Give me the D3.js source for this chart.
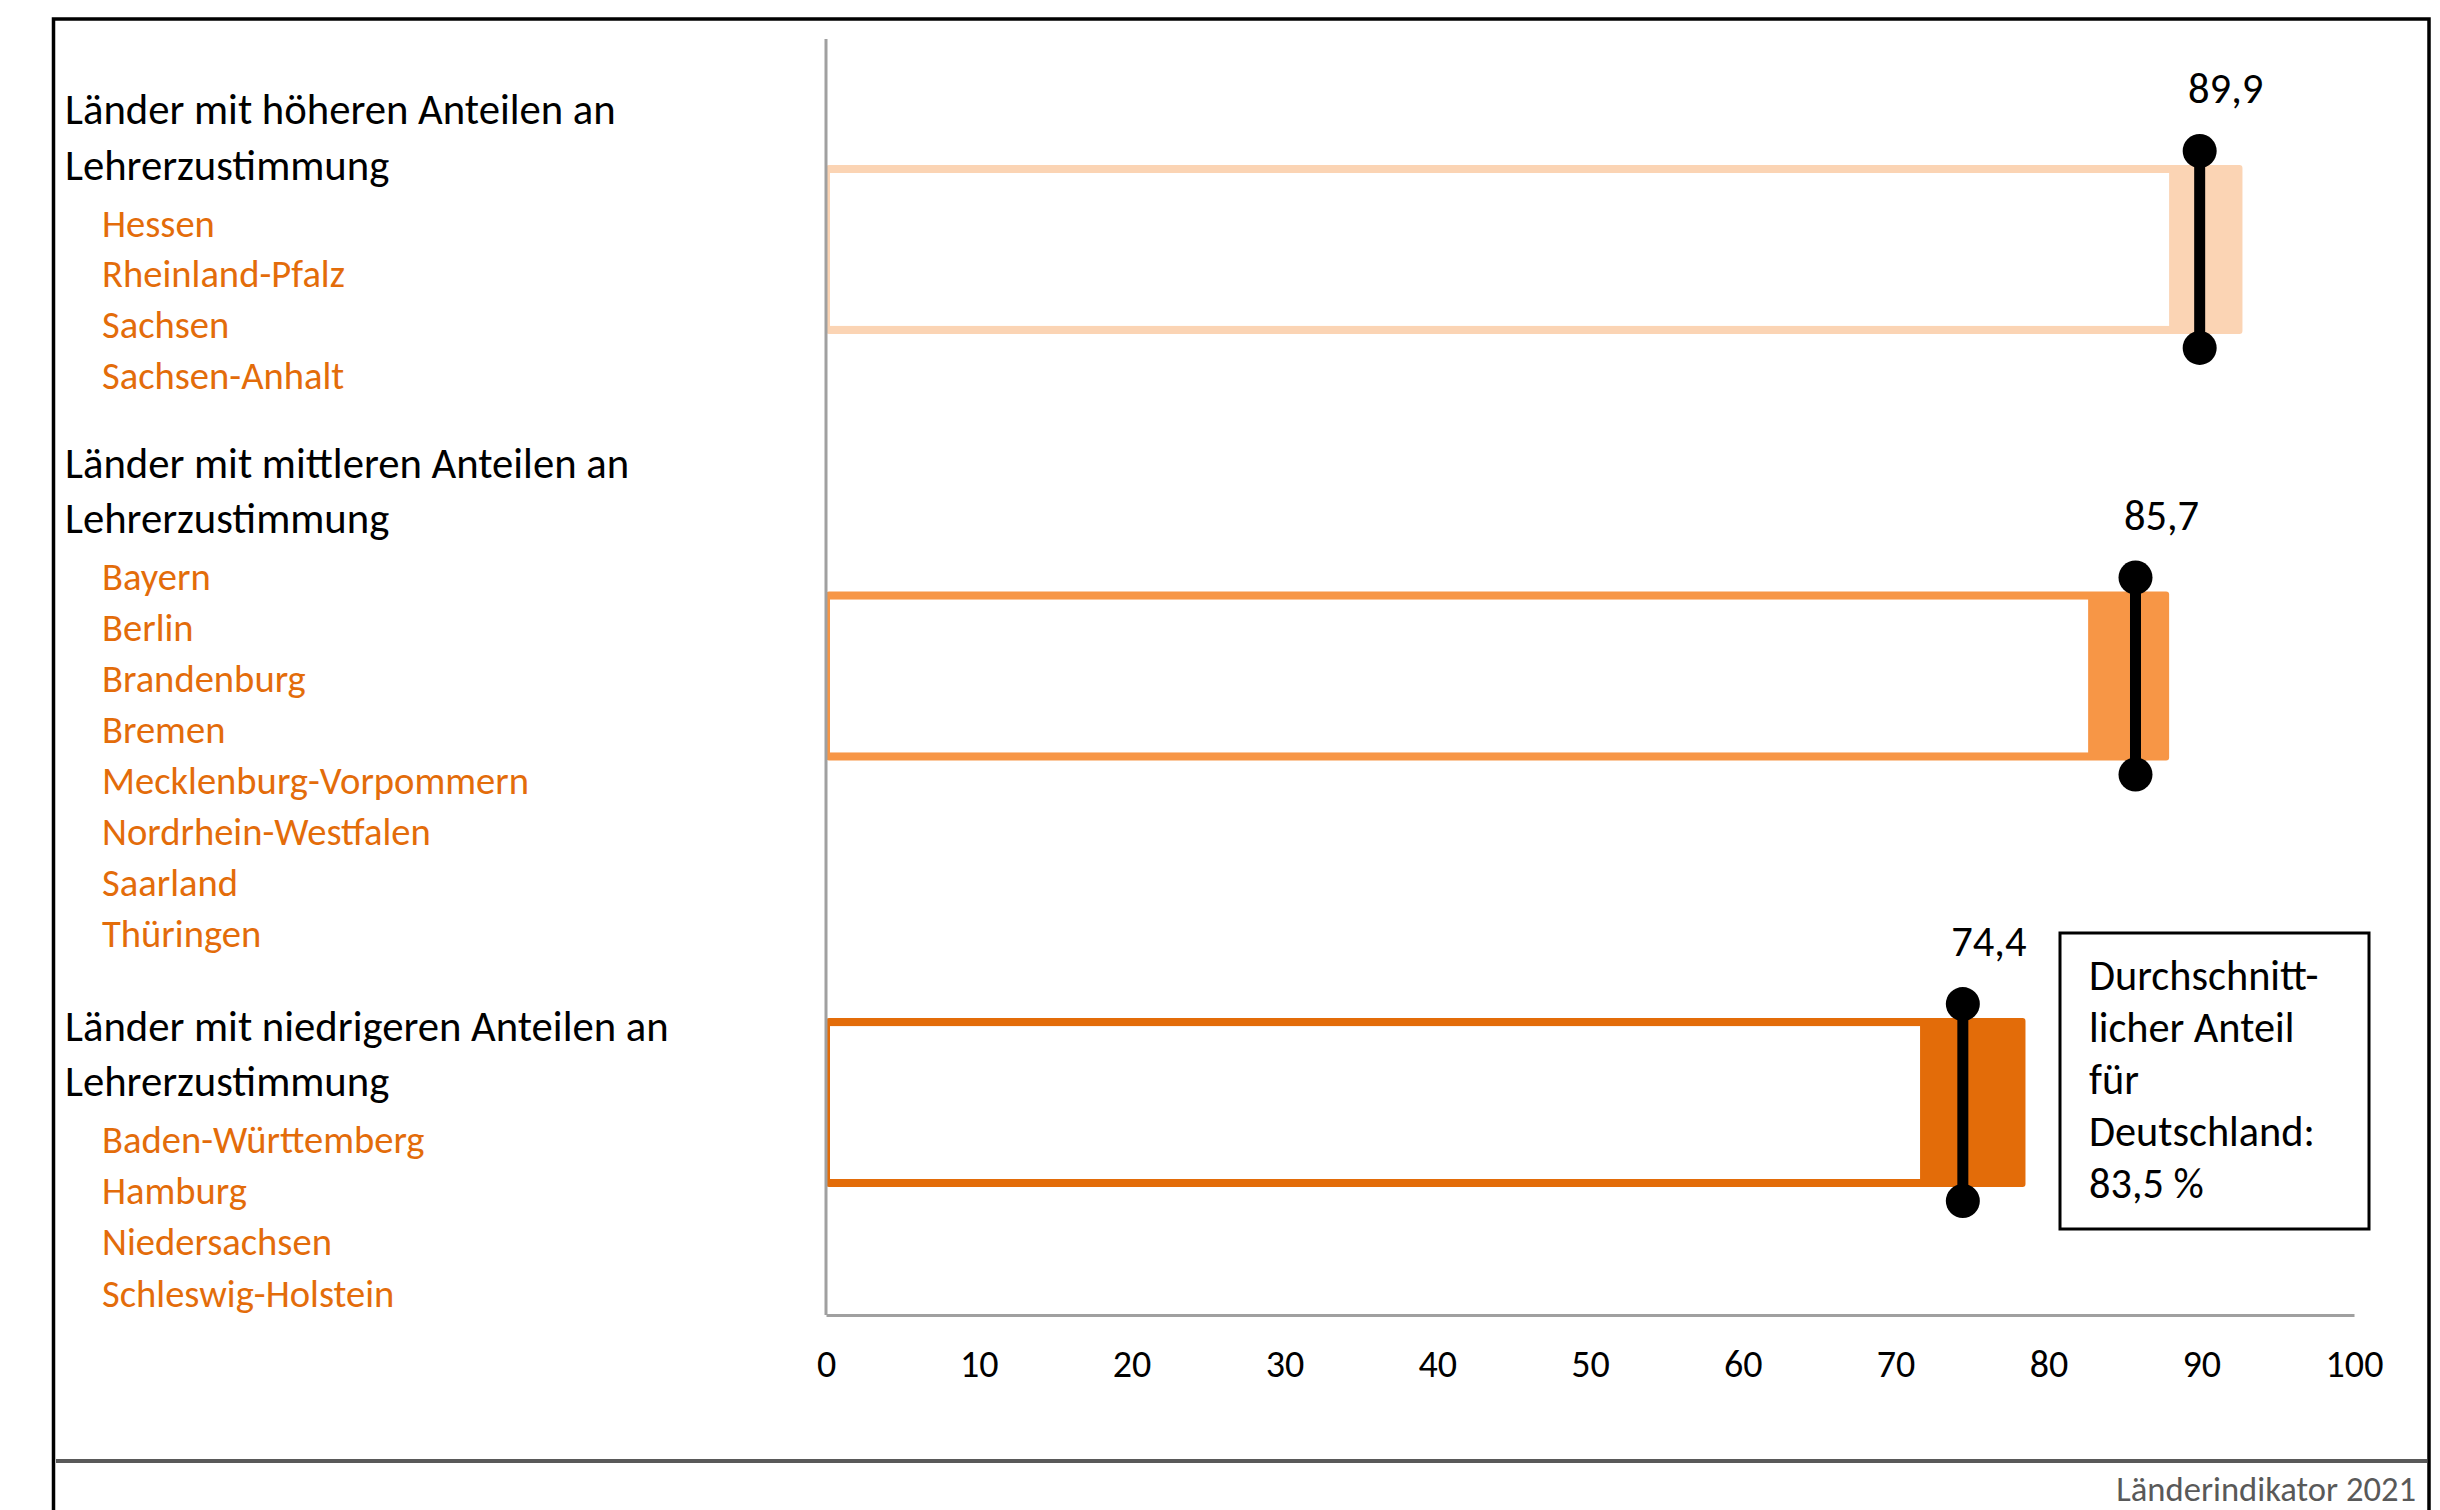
<!DOCTYPE html>
<html lang="de">
<head>
<meta charset="utf-8">
<script src="https://cdn.jsdelivr.net/npm/d3@7"></script>
<style>
  html, body { margin: 0; padding: 0; background: #ffffff; }
  svg { display: block; }
  text { font-family: Carlito, Calibri, Lato, "Open Sans", sans-serif; }
</style>
</head>
<body>
<svg id="chart" width="2440" height="1510"></svg>
<script>
// ---------- data ----------
const groupKeys = ["hoch", "mittel", "niedrig"];
const groupHeaders = [
  ["Länder mit höheren Anteilen an", "Lehrerzustimmung"],
  ["Länder mit mittleren Anteilen an", "Lehrerzustimmung"],
  ["Länder mit niedrigeren Anteilen an", "Lehrerzustimmung"]
];
const groupCountries = [
  ["Hessen", "Rheinland-Pfalz", "Sachsen", "Sachsen-Anhalt"],
  ["Bayern", "Berlin", "Brandenburg", "Bremen", "Mecklenburg-Vorpommern", "Nordrhein-Westfalen", "Saarland", "Thüringen"],
  ["Baden-Württemberg", "Hamburg", "Niedersachsen", "Schleswig-Holstein"]
];
const groupMeans = [89.9, 85.7, 74.4];
const groupMins = [87.9, 82.6, 71.6];
const groupMaxs = [92.7, 87.9, 78.5];
const groupColors = ["#FBD4B4", "#F79646", "#E36C09"];
const xTicks = [0, 10, 20, 30, 40, 50, 60, 70, 80, 90, 100];
const germanyMean = 83.5;
const boxLines = ["Durchschnitt-", "licher Anteil", "für", "Deutschland:"];
const footerText = "Länderindikator 2021";

// ---------- setup ----------
const svg = d3.select("#chart");
const de = d3.formatLocale({ decimal: ",", thousands: ".", grouping: [3], currency: ["", " €"] });
const fmt1 = de.format(".1f");

const x = d3.scaleLinear().domain([0, 100]).range([826, 2354]);
const y = d3.scaleBand().domain(groupKeys).range([165, 1187]).paddingInner(0.604).paddingOuter(0);
const axisY = 1315;

// ---------- frame ----------
const frame = svg.append("g");
frame.append("path")
  .attr("d", "M53.5,1510 V19 H2429 V1510")
  .attr("fill", "none").attr("stroke", "#000").attr("stroke-width", 3.5);
frame.append("line")
  .attr("x1", 56).attr("x2", 2427).attr("y1", 1461).attr("y2", 1461)
  .attr("stroke", "#595959").attr("stroke-width", 4);
frame.append("text")
  .attr("x", 2416).attr("y", 1501).attr("text-anchor", "end")
  .attr("font-size", 34.6).attr("fill", "#595959").text(footerText);

// ---------- left legend text ----------
const legend = svg.append("g");
const groupGaps = [88.5, 94];
let ty = 124;
groupKeys.forEach((k, i) => {
  groupHeaders[i].forEach((line, j) => {
    if (j > 0) ty += 55.5;
    legend.append("text").attr("x", 65).attr("y", ty)
      .attr("font-size", 42.7).attr("fill", "#000").text(line);
  });
  ty += 57;
  const sp = i === 2 ? 51.2 : 50.9;
  groupCountries[i].forEach((c, j) => {
    if (j > 0) ty += sp;
    legend.append("text").attr("x", 102).attr("y", ty)
      .attr("font-size", 38.6).attr("fill", "#E36C0A").text(c);
  });
  ty += groupGaps[i] || 0;
});

// ---------- bars ----------
const bars = svg.append("g");
groupKeys.forEach((k, i) => {
  const y0 = y(k), h = y.bandwidth();
  // outer coloured box from 0 to max
  bars.append("rect")
    .attr("x", x(0)).attr("y", y0)
    .attr("width", x(groupMaxs[i]) - x(0)).attr("height", h)
    .attr("rx", 3).attr("fill", groupColors[i]);
  // white inner part from 0 to min
  bars.append("rect")
    .attr("x", x(0) + 4).attr("y", y0 + 8)
    .attr("width", x(groupMins[i]) - x(0) - 4).attr("height", h - 16)
    .attr("fill", "#fff");
});

// ---------- axes ----------
svg.append("line")
  .attr("x1", x(0)).attr("x2", x(0)).attr("y1", 39).attr("y2", axisY)
  .attr("stroke", "#a0a0a0").attr("stroke-width", 3);

const xAxis = d3.axisBottom(x).tickValues(xTicks).tickSize(0).tickFormat(d3.format("d"));
const gx = svg.append("g").attr("transform", `translate(0,${axisY})`).call(xAxis);
gx.select(".domain").attr("stroke", "#a0a0a0").attr("stroke-width", 3);
gx.selectAll(".tick text")
  .attr("y", 62).attr("dy", null)
  .attr("font-size", 38).attr("fill", "#000")
  .style("font-family", "Carlito, Calibri, Lato, 'Open Sans', sans-serif");
gx.attr("font-size", null).attr("font-family", null);

// ---------- mean markers ----------
const marks = svg.append("g");
groupKeys.forEach((k, i) => {
  const y0 = y(k), h = y.bandwidth();
  const mx = x(groupMeans[i]);
  const top = y0 - 14, bot = y0 + h + 14;
  marks.append("line")
    .attr("x1", mx).attr("x2", mx).attr("y1", top).attr("y2", bot)
    .attr("stroke", "#000").attr("stroke-width", 11);
  marks.append("circle").attr("cx", mx).attr("cy", top).attr("r", 17).attr("fill", "#000");
  marks.append("circle").attr("cx", mx).attr("cy", bot).attr("r", 17).attr("fill", "#000");
  marks.append("text")
    .attr("x", mx + 26).attr("y", y0 - 62).attr("text-anchor", "middle")
    .attr("font-size", 42.5).attr("fill", "#000").text(fmt1(groupMeans[i]));
});

// ---------- Germany box ----------
const box = svg.append("g");
box.append("rect")
  .attr("x", 2060).attr("y", 933).attr("width", 309).attr("height", 296)
  .attr("fill", "#fff").attr("stroke", "#000").attr("stroke-width", 3);
boxLines.concat([fmt1(germanyMean) + " %"]).forEach((t, j) => {
  box.append("text").attr("x", 2089).attr("y", 990 + j * 52)
    .attr("font-size", 42.3).attr("fill", "#000").text(t);
});
</script>
</body>
</html>
